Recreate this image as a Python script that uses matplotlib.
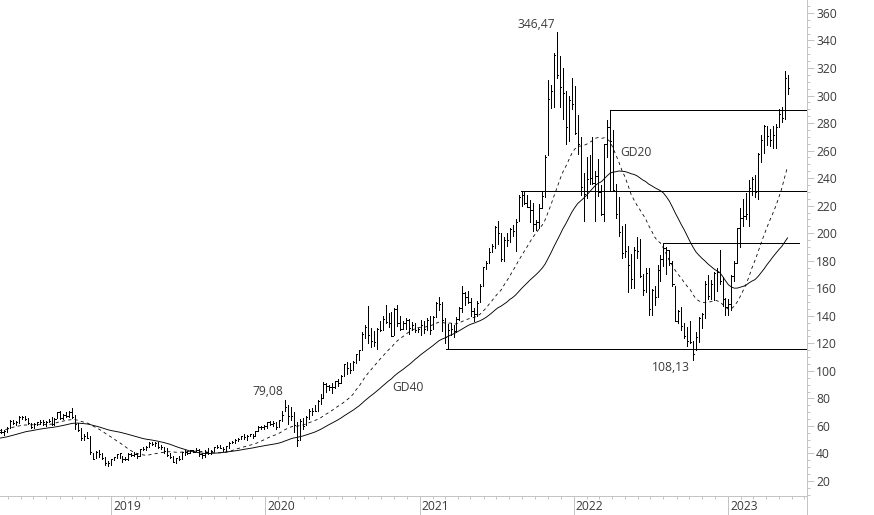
import numpy as np
import pandas as pd
import matplotlib
matplotlib.use("Agg")
import matplotlib.pyplot as plt
import matplotlib.dates as mdates
from matplotlib.ticker import MultipleLocator
from matplotlib.lines import Line2D
from matplotlib.transforms import ScaledTranslation

# weekly bars, one per week starting Monday 2018-04-09 (last one 2023-05-22)
first_week = "2018-04-09"

high_2018 = [57.3, 57.8, 57.0, 59.0, 64.0, 64.3, 63.6, 66.9, 67.0, 67.5, 66.0, 62.4, 62.0,
             63.0, 64.0, 64.2, 63.4, 64.9, 66.2, 65.5, 70.0, 70.5, 68.5, 69.8, 70.8, 73.2,
             68.0, 62.4, 58.5, 54.5, 55.8, 52.8, 40.6, 42.0, 42.5, 40.5, 37.5, 34.6, 36.3]
low_2018 = [54.3, 55.0, 53.4, 55.6, 58.3, 61.5, 60.5, 62.0, 65.0, 64.0, 61.5, 58.3, 58.5,
            60.5, 61.5, 60.8, 60.0, 62.5, 60.5, 61.0, 65.5, 64.8, 65.0, 66.5, 66.8, 65.5,
            58.0, 56.5, 49.5, 49.7, 51.0, 39.5, 36.0, 36.5, 37.3, 35.8, 31.5, 31.1, 31.9]
close_2018 = [55.5, 55.9, 56.5, 58.5, 63.9, 62.0, 62.5, 66.5, 66.3, 65.3, 61.8, 59.2, 61.5,
              62.6, 62.8, 62.6, 62.8, 63.6, 61.2, 65.3, 70.0, 66.0, 68.0, 67.4, 70.3, 66.5,
              61.3, 56.9, 51.0, 52.7, 51.4, 40.7, 36.2, 41.0, 39.5, 36.8, 32.9, 33.3, 36.1]

high_2019 = [37.7, 39.7, 40.4, 38.0, 37.4, 40.0, 40.4, 40.8, 40.5, 43.6, 45.0, 45.2, 48.0,
             48.2, 48.2, 48.0, 45.8, 45.0, 43.8, 40.0, 37.8, 37.0, 38.0, 41.0, 42.2, 41.5,
             42.5, 42.8, 43.8, 43.6, 40.5, 42.2, 44.0, 42.5, 44.9, 46.0, 46.3, 44.8, 45.6,
             48.2, 49.3, 50.4, 51.0, 52.8, 53.8, 53.3, 54.5, 54.4, 56.5, 59.9, 60.0, 60.5]
low_2019 = [35.0, 36.5, 37.0, 33.5, 35.5, 35.6, 38.3, 38.5, 37.0, 37.9, 42.3, 42.5, 44.5,
            46.0, 45.5, 44.0, 43.5, 40.3, 38.5, 36.5, 33.6, 33.2, 35.5, 36.2, 39.0, 39.5,
            40.0, 41.0, 41.5, 38.0, 37.0, 37.3, 39.4, 39.5, 41.5, 44.0, 43.7, 42.0, 41.8,
            44.0, 47.3, 47.5, 49.0, 50.2, 50.5, 50.0, 52.5, 51.2, 52.8, 56.0, 58.0, 58.0]
close_2019 = [37.3, 39.3, 40.1, 36.3, 36.0, 39.6, 39.0, 39.8, 37.9, 42.9, 42.9, 44.9, 47.3,
              46.8, 47.5, 44.9, 44.6, 42.0, 39.1, 37.2, 33.8, 36.5, 36.2, 40.9, 41.1, 40.4,
              42.2, 41.3, 42.8, 39.9, 39.2, 41.1, 40.3, 41.9, 44.7, 45.0, 44.0, 43.5, 45.3,
              47.6, 48.3, 50.0, 50.8, 52.7, 52.3, 52.6, 54.3, 52.9, 56.3, 59.2, 59.0, 59.8]

high_2020 = [63.0, 63.4, 63.8, 63.0, 64.5, 70.8, 79.1, 75.5, 73.5, 70.0, 63.0, 65.0, 66.0,
             67.5, 72.0, 73.0, 75.5, 78.5, 83.0, 92.0, 91.0, 90.0, 91.5, 93.0, 94.0, 97.0,
             105.0, 106.5, 106.0, 107.5, 112.5, 115.0, 128.0, 133.0, 147.3, 131.0, 129.0, 131.0, 136.5,
             140.0, 147.5, 142.0, 142.5, 146.0, 148.0, 140.0, 136.5, 138.5, 138.0, 135.5, 135.0, 131.0]
low_2020 = [58.5, 60.5, 60.0, 58.0, 59.0, 63.5, 70.5, 61.5, 64.5, 55.5, 45.2, 49.5, 58.0,
            60.5, 65.0, 68.0, 70.5, 71.0, 76.0, 80.5, 84.5, 86.0, 84.0, 87.5, 89.0, 91.0,
            96.0, 98.0, 98.5, 100.5, 106.0, 108.0, 115.0, 124.0, 120.0, 117.0, 118.0, 116.0, 129.0,
            130.0, 135.0, 132.0, 125.0, 126.0, 132.5, 130.0, 130.5, 130.5, 127.0, 130.0, 128.0, 128.0]
close_2020 = [62.7, 61.3, 62.0, 59.1, 64.2, 68.3, 73.4, 67.2, 67.5, 60.5, 49.8, 63.5, 59.8,
              66.3, 71.2, 71.0, 71.0, 77.8, 80.5, 90.3, 88.8, 88.5, 88.6, 92.5, 91.3, 96.3,
              104.8, 102.0, 100.3, 106.3, 112.0, 115.0, 127.0, 131.6, 126.0, 121.6, 120.8, 130.5, 130.0,
              138.0, 135.5, 135.0, 125.4, 145.0, 134.6, 130.7, 134.5, 136.7, 131.5, 133.0, 129.5, 130.5]

high_2021 = [137.0, 136.0, 138.5, 139.5, 140.0, 150.0, 153.7, 150.0, 138.5, 134.0, 134.5, 133.5, 139.0,
             146.5, 162.0, 157.0, 158.0, 153.0, 145.5, 151.0, 163.0, 175.5, 180.0, 189.5, 192.0, 205.0,
             208.8, 200.5, 197.0, 200.0, 204.0, 206.0, 210.0, 227.5, 230.4, 230.0, 228.0, 224.0, 222.0,
             209.5, 221.0, 230.0, 257.0, 311.0, 308.0, 330.9, 346.5, 329.0, 320.0, 303.0, 300.0, 313.0]
low_2021 = [126.0, 127.5, 130.0, 127.0, 130.5, 139.0, 144.0, 129.0, 120.0, 115.7, 126.0, 124.5, 128.0,
            137.0, 142.5, 148.0, 149.0, 140.0, 136.5, 140.0, 150.0, 162.0, 174.0, 178.0, 186.0, 189.0,
            192.0, 180.0, 180.0, 191.0, 193.5, 198.0, 187.0, 208.5, 220.0, 221.0, 219.0, 208.0, 201.5,
            202.0, 204.0, 218.0, 226.0, 257.0, 291.0, 292.0, 313.0, 292.0, 283.0, 265.0, 267.0, 290.0]
close_2021 = [133.5, 130.2, 137.0, 129.9, 139.0, 149.5, 148.5, 137.0, 124.5, 130.0, 130.5, 128.8, 138.0,
              145.6, 156.5, 153.3, 150.1, 143.5, 141.0, 149.6, 162.0, 175.2, 178.3, 186.4, 190.6, 204.7,
              199.8, 181.1, 195.2, 195.0, 203.2, 201.9, 208.2, 226.4, 228.0, 222.0, 219.0, 216.6, 207.0,
              208.0, 218.6, 227.2, 255.7, 297.5, 303.0, 329.8, 315.0, 306.0, 302.0, 277.2, 296.4, 294.1]

high_2022 = [307.0, 286.0, 270.0, 244.0, 255.0, 257.0, 270.0, 245.0, 254.0, 235.0, 265.0, 282.0, 289.5,
             275.0, 236.0, 226.0, 205.0, 207.0, 191.0, 185.0, 190.0, 197.0, 196.0, 170.5, 175.0, 175.0,
             159.5, 161.5, 177.0, 184.0, 192.7, 190.0, 188.0, 180.0, 162.0, 144.0, 146.5, 135.0, 132.0,
             136.0, 122.0, 128.5, 139.0, 142.0, 165.0, 170.0, 166.0, 172.0, 175.0, 188.0, 168.0, 153.0]
low_2022 = [272.0, 257.5, 227.5, 208.9, 225.5, 236.0, 236.0, 208.9, 227.0, 213.0, 208.5, 255.0, 264.5,
            231.0, 211.0, 198.0, 182.0, 183.0, 157.0, 160.0, 160.0, 182.0, 168.5, 155.0, 157.0, 140.5,
            140.5, 148.0, 154.0, 165.0, 176.0, 170.5, 177.0, 162.0, 136.5, 135.0, 129.8, 124.0, 118.0,
            120.0, 108.1, 115.0, 121.0, 131.0, 138.5, 152.0, 152.0, 151.5, 158.0, 163.0, 147.0, 140.5]
close_2022 = [272.5, 265.0, 233.7, 228.4, 239.5, 240.0, 236.4, 241.6, 229.7, 214.0, 264.6, 276.9, 267.1,
              231.2, 214.0, 201.0, 185.5, 187.0, 177.0, 166.5, 188.1, 187.2, 169.0, 158.8, 171.3, 145.2,
              158.4, 154.0, 173.2, 181.6, 189.5, 187.6, 178.0, 163.0, 136.5, 143.6, 132.6, 125.2, 121.4,
              120.8, 112.3, 124.7, 138.3, 141.6, 163.3, 154.1, 163.2, 171.0, 172.0, 165.6, 152.1, 146.1]

high_2023 = [152.0, 170.0, 180.0, 204.0, 218.5, 225.0, 229.0, 238.4, 241.0, 242.5, 258.0, 271.0, 278.3,
             278.0, 276.0, 278.0, 279.0, 290.0, 292.0, 318.0, 315.0]
low_2023 = [140.3, 144.0, 165.0, 178.0, 190.0, 205.0, 210.0, 205.0, 228.0, 226.5, 225.0, 252.0, 258.0,
            264.0, 263.5, 262.0, 262.2, 277.0, 281.0, 283.0, 301.0]
close_2023 = [148.6, 168.9, 178.4, 203.6, 211.0, 212.7, 213.9, 232.9, 239.4, 229.6, 257.2, 267.8, 277.8,
              270.4, 267.6, 271.1, 277.5, 286.9, 283.4, 312.6, 305.4]

# weekly closes 2017-07-10 .. 2018-04-02, only used to start the averages
close_before = [40.0, 41.5, 40.5, 41.5, 38.8, 40.0, 41.5, 42.5, 41.5, 43.5, 46.0, 44.5, 46.0,
                47.5, 49.0, 49.5, 51.5, 53.5, 53.0, 54.5, 50.0, 49.0, 48.5, 48.8, 48.4, 54.0,
                56.5, 58.0, 61.0, 60.0, 58.0, 60.0, 62.5, 61.5, 64.0, 61.0, 60.0, 58.0, 55.0]

# drawn support / resistance lines
levels = [230.4, 289.5, 192.7, 115.7]
level_from = ["2021-08-28", "2022-03-28", "2022-07-30", "2021-03-05"]
level_to = ["2023-07-07", "2023-07-07", "2023-06-19", "2023-07-07"]

year_ticks = ["2019", "2020", "2021", "2022", "2023"]

high = high_2018 + high_2019 + high_2020 + high_2021 + high_2022 + high_2023
low = low_2018 + low_2019 + low_2020 + low_2021 + low_2022 + low_2023
close = close_2018 + close_2019 + close_2020 + close_2021 + close_2022 + close_2023

dates = pd.date_range(first_week, periods=len(close), freq="W-MON")
allc = pd.Series(close_before + close)
gd20 = allc.rolling(20).mean().values[len(close_before):]
gd40 = allc.rolling(40).mean().values[len(close_before):]

txt = "#3a3a3a"
grey = "#c4c4c4"
font = "Open Sans"
px = 0.72  # one pixel in points

fig = plt.figure(figsize=(8.74, 5.15), dpi=100)
ax = fig.add_axes([0, 19 / 515, 807 / 874, 496 / 515])

ax.vlines(dates, low, high, color="black", lw=px, antialiased=False)
ax.hlines(close, dates, dates + pd.Timedelta(days=3), color="black", lw=px, antialiased=False)

ax.plot(dates, gd20, color="black", lw=0.8 * px, ls=(0, (4, 4)))
ax.plot(dates, gd40, color="black", lw=0.9 * px)

for lv, a, b in zip(levels, level_from, level_to):
    ax.hlines(lv, pd.Timestamp(a), pd.Timestamp(b), color="black", lw=px, antialiased=False)
ax.vlines(pd.Timestamp(level_from[1]), levels[0], levels[1], color="black", lw=px,
          antialiased=False)

ax.text(pd.Timestamp("2021-10-03"), 351.3, "346,47", ha="center", va="center",
        fontsize=8.7, color=txt, family=font)
ax.text(pd.Timestamp("2020-01-08"), 84.7, "79,08", ha="center", va="center",
        fontsize=8.7, color=txt, family=font)
ax.text(pd.Timestamp("2022-08-20"), 102.8, "108,13", ha="center", va="center",
        fontsize=8.7, color=txt, family=font)
ax.text(pd.Timestamp("2022-05-29"), 258.3, "GD20", ha="center", va="center",
        fontsize=8.7, color=txt, family=font)
ax.text(pd.Timestamp("2020-12-05"), 87.6, "GD40", ha="center", va="center",
        fontsize=8.7, color=txt, family=font)

ax.set_xlim(pd.Timestamp("2018-04-13"), pd.Timestamp("2023-07-07"))
ax.set_ylim(9.1, 369.4)

for s in ["top", "left"]:
    ax.spines[s].set_visible(False)
for s in ["bottom", "right"]:
    ax.spines[s].set_color(grey)
    ax.spines[s].set_linewidth(px)
    ax.spines[s].set_antialiased(False)

ax.yaxis.tick_right()
ax.yaxis.set_major_locator(MultipleLocator(20))
ax.yaxis.set_minor_locator(MultipleLocator(5))
ax.tick_params(axis="y", which="major", length=4.8, width=px, color=grey, pad=1.8,
               labelsize=8.7, labelcolor=txt)
ax.tick_params(axis="y", which="minor", length=2.4, width=px, color=grey)
for lab in ax.get_yticklabels():
    lab.set_family(font)

ax.xaxis.set_major_locator(mdates.YearLocator())
ax.xaxis.set_minor_locator(mdates.MonthLocator())
ax.tick_params(axis="x", which="major", length=14, width=px, color=grey, labelbottom=False)
ax.tick_params(axis="x", which="minor", length=2.2, width=px, color=grey)

off = ScaledTranslation(2 / 100, 0, fig.dpi_scale_trans)
for yr in year_ticks:
    ax.text(pd.Timestamp(yr + "-01-01"), -11 / 496, yr, transform=ax.get_xaxis_transform() + off,
            ha="left", va="center", fontsize=8.7, color=txt, family=font)

fig.add_artist(Line2D([807 / 874, 807 / 874], [0, 19 / 515], color=grey, lw=px))

fig.savefig("out.png", dpi=100)
